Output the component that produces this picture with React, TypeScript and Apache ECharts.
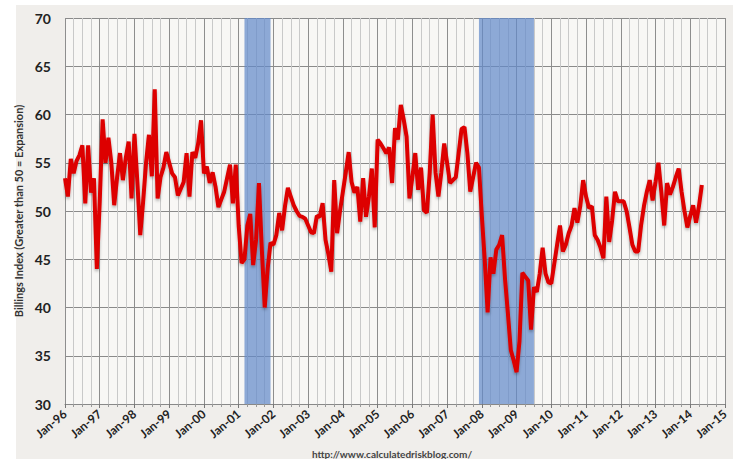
import React, { useEffect, useRef } from "react";
import * as echarts from "echarts";

// Monthly Architecture Billings Index, Jan-1996 onward
const abi1996 = [53.4, 51.5, 55.4, 53.9, 55.2, 55.8, 56.8, 50.8, 56.8, 51.9, 53.4, 44.0];
const abi1997 = [51.0, 59.5, 55.0, 57.6, 55.0, 50.6, 53.5, 56.0, 53.2, 55.5, 57.2, 51.3];
const abi1998 = [58.0, 53.0, 47.5, 51.0, 55.0, 57.9, 53.6, 62.6, 51.3, 53.5, 54.5, 56.1];
const abi1999 = [55.0, 53.9, 53.5, 51.6, 52.3, 53.0, 56.0, 51.5, 56.1, 55.5, 57.0, 59.4];
const abi2000 = [53.9, 54.6, 52.9, 54.0, 52.5, 50.4, 51.2, 52.0, 53.4, 54.8, 50.8, 54.8];
const abi2001 = [48.5, 44.6, 45.0, 48.5, 49.7, 44.4, 47.0, 52.9, 46.0, 40.0, 44.0, 46.7];
const abi2002 = [46.5, 47.5, 49.8, 48.0, 50.5, 52.4, 51.5, 50.6, 50.0, 49.5, 49.4, 49.2];
const abi2003 = [48.5, 47.8, 47.7, 49.5, 49.4, 50.8, 47.0, 45.5, 43.7, 53.2, 47.7, 50.0];
const abi2004 = [52.0, 54.0, 56.1, 53.0, 51.9, 52.5, 48.9, 53.4, 49.4, 51.5, 54.4, 48.3];
const abi2005 = [57.4, 57.0, 56.5, 56.0, 56.6, 52.9, 58.6, 57.4, 61.0, 59.5, 57.7, 51.3];
const abi2006 = [53.5, 56.0, 52.2, 54.5, 50.1, 49.8, 54.0, 60.0, 54.0, 51.5, 54.0, 57.0];
const abi2007 = [55.0, 52.9, 53.2, 53.5, 56.0, 58.5, 58.7, 56.0, 52.0, 53.5, 55.0, 54.5];
const abi2008 = [49.5, 44.9, 39.5, 45.2, 43.5, 46.0, 46.5, 47.5, 43.0, 39.4, 35.6, 34.5];
const abi2009 = [33.3, 36.5, 43.6, 43.2, 42.8, 37.7, 42.1, 41.6, 43.5, 46.2, 43.5, 42.6];
const abi2010 = [42.5, 44.5, 46.5, 48.5, 45.8, 46.5, 47.7, 48.5, 50.3, 48.8, 50.5, 53.2];
const abi2011 = [51.5, 50.3, 50.5, 47.5, 47.0, 46.2, 45.1, 51.5, 46.8, 49.0, 52.0, 51.0];
const abi2012 = [51.0, 51.0, 50.0, 48.3, 46.5, 45.8, 45.8, 48.5, 50.5, 52.0, 53.2, 51.1];
const abi2013 = [53.0, 55.0, 52.0, 48.5, 52.9, 51.7, 52.5, 53.5, 54.4, 52.0, 50.0, 48.3];
const abi2014 = [49.5, 50.6, 48.8, 50.5, 52.7];

const tickLabels = [
  "Jan-96", "Jan-97", "Jan-98", "Jan-99", "Jan-00", "Jan-01", "Jan-02",
  "Jan-03", "Jan-04", "Jan-05", "Jan-06", "Jan-07", "Jan-08", "Jan-09",
  "Jan-10", "Jan-11", "Jan-12", "Jan-13", "Jan-14", "Jan-15",
];

// Recessions, as month offsets from Jan-96
const recessionStart = [62, 143];
const recessionEnd = [71, 162];

const yTitle = "Billings Index (Greater than 50 = Expansion)";
const sourceText = "http://www.calculatedriskblog.com/";

const allValues = [
  ...abi1996, ...abi1997, ...abi1998, ...abi1999, ...abi2000, ...abi2001,
  ...abi2002, ...abi2003, ...abi2004, ...abi2005, ...abi2006, ...abi2007,
  ...abi2008, ...abi2009, ...abi2010, ...abi2011, ...abi2012, ...abi2013,
  ...abi2014,
];

const FONT = "Lato, 'Open Sans', sans-serif";

export default function App() {
  const ref = useRef<HTMLDivElement>(null);
  useEffect(() => {
    if (!ref.current) return;
    const chart = echarts.init(ref.current, null, { renderer: "svg" });
    chart.setOption({
      animation: false,
      backgroundColor: "transparent",
      graphic: [
        {
          type: "text",
          left: 312,
          top: 449,
          style: {
            text: sourceText,
            font: `bold 10px ${FONT}`,
            fill: "#444",
          },
        },
      ],
      grid: {
        left: 65,
        right: 8,
        top: 18,
        bottom: 55,
        show: true,
        backgroundColor: "#f8f7f5",
        borderWidth: 0,
      },
      xAxis: {
        type: "value",
        min: 0,
        max: 228,
        interval: 12,
        axisLine: { show: true, lineStyle: { color: "#888", width: 1 } },
        axisTick: { show: true, length: 4, lineStyle: { color: "#777" } },
        minorTick: { show: true, splitNumber: 4, length: 3, lineStyle: { color: "#999" } },
        splitLine: { show: true, lineStyle: { color: "#8e8e8e", width: 1 } },
        minorSplitLine: { show: true, lineStyle: { color: "#c9c9c9", width: 1 } },
        axisLabel: {
          rotate: 40,
          margin: 8,
          fontFamily: FONT,
          fontWeight: "bold",
          fontSize: 12,
          color: "#222",
          formatter: (v: number) => tickLabels[Math.round(v / 12)] ?? "",
        },
      },
      yAxis: {
        type: "value",
        min: 30,
        max: 70,
        interval: 5,
        name: yTitle,
        nameLocation: "middle",
        nameGap: 38,
        nameTextStyle: { fontFamily: FONT, fontSize: 11, color: "#333", fontWeight: "bold" },
        axisLine: { show: false },
        axisTick: { show: false },
        splitLine: { show: true, lineStyle: { color: "#8a8a8a", width: 1 } },
        axisLabel: {
          fontFamily: FONT,
          fontWeight: "bold",
          fontSize: 14,
          color: "#222",
          margin: 14,
        },
      },
      series: [
        {
          type: "line",
          data: allValues.map((v, i) => [i, v]),
          symbol: "none",
          lineStyle: {
            color: "#dd0000",
            width: 4,
            shadowColor: "rgba(0,0,0,0.3)",
            shadowBlur: 3,
            shadowOffsetY: 2,
          },
          markArea: {
            silent: true,
            itemStyle: { color: "rgba(100,138,202,0.72)" },
            data: recessionStart.map((s, i) => [{ xAxis: s }, { xAxis: recessionEnd[i] }]),
          },
          z: 5,
        },
      ],
    });
    return () => chart.dispose();
  }, []);
  return (
    <div
      style={{
        position: "fixed",
        left: 0,
        top: 0,
        width: 733,
        height: 459,
        background: "#ffffff",
      }}
    >
      <div
        style={{
          position: "absolute",
          left: 16,
          top: 5,
          width: 717,
          height: 454,
          background: "#f0eeeb",
        }}
      />
      <div
        ref={ref}
        style={{ position: "absolute", left: 0, top: 0, width: 733, height: 459 }}
      />
    </div>
  );
}
